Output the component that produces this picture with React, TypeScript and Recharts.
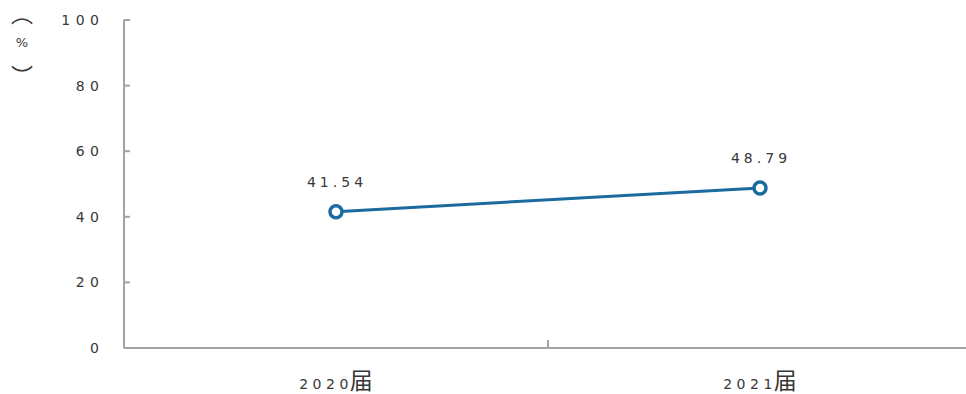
import { LineChart, Line, XAxis, YAxis, LabelList } from 'recharts'

// values
const categories = ['2020届', '2021届']
const rates = [41.54, 48.79]
const yTicks = [0, 20, 40, 60, 80, 100]

const data = categories.map((name, i) => ({ name, rate: rates[i] }))

const AXIS = '#a3a3a3'
const TEXT = '#383838'
const LINE = '#1c6b9f'
const NUM_FONT = '"DejaVu Sans", Verdana, sans-serif'
const CJK_FONT = '"Noto Sans CJK SC", sans-serif'

const Y_MARGIN = 25
const X_MARGIN = 28
const SPACING = 5.5

function YTick(props: any) {
  const { x, y, payload } = props
  const axisX = x + Y_MARGIN
  return (
    <g>
      <line x1={axisX} x2={axisX + 6} y1={y} y2={y} stroke={AXIS} strokeWidth={2} />
      <text x={x + SPACING} y={y} dy={5} textAnchor="end" fontSize={14} letterSpacing={SPACING} fill={TEXT} fontFamily={NUM_FONT}>
        {payload.value}
      </text>
    </g>
  )
}

function XTick(props: any) {
  const { x, y, payload, index } = props
  const axisY = y - X_MARGIN
  const half = payload.offset || 0
  const label = String(payload.value)
  const digits = label.replace('届', '')
  return (
    <g>
      {index === 0 && half > 0 && (
        <line x1={x + half} x2={x + half} y1={axisY} y2={axisY - 8} stroke={AXIS} strokeWidth={2} />
      )}
      <text x={x} y={y} dy={13} textAnchor="middle" fill={TEXT}>
        <tspan fontFamily={NUM_FONT} fontSize={14} letterSpacing={4.5}>{digits}</tspan>
        <tspan fontFamily={CJK_FONT} fontSize={23} dx={-3}>届</tspan>
      </text>
    </g>
  )
}

function ValueLabel(props: any) {
  const { x, y, value } = props
  return (
    <text x={x + 1} y={y} dy={-25} textAnchor="middle" fontSize={14} letterSpacing={4} fill={TEXT} fontFamily={NUM_FONT}>
      {Number(value).toFixed(2)}
    </text>
  )
}

function UnitLabel() {
  return (
    <g fill={TEXT} fontFamily={CJK_FONT} textAnchor="middle">
      <text x={22} y={22} fontSize={22}>︵</text>
      <text x={22} y={47} fontSize={13} fontFamily={NUM_FONT}>%</text>
      <text x={22} y={84} fontSize={22}>︶</text>
    </g>
  )
}

export default function App() {
  return (
    <div style={{ position: 'absolute', left: 0, top: 0, width: 966, height: 394, overflow: 'hidden', background: '#fff' }}>
      <LineChart width={972} height={394} data={data} margin={{ top: 20, right: 0, bottom: 16, left: 0 }}>
        <XAxis
          dataKey="name"
          scale="band"
          height={30}
          axisLine={{ stroke: AXIS, strokeWidth: 2 }}
          tickLine={false}
          tickSize={0}
          tickMargin={X_MARGIN}
          tick={<XTick />}
        />
        <YAxis
          width={124}
          domain={[0, 100]}
          ticks={yTicks}
          axisLine={{ stroke: AXIS, strokeWidth: 2 }}
          tickLine={false}
          tickSize={0}
          tickMargin={Y_MARGIN}
          tick={<YTick />}
          label={{ content: () => <UnitLabel /> }}
        />
        <Line
          type="linear"
          dataKey="rate"
          stroke={LINE}
          strokeWidth={3}
          dot={{ r: 6, fill: '#fff', stroke: LINE, strokeWidth: 3.5 }}
          isAnimationActive={false}
        >
          <LabelList dataKey="rate" content={<ValueLabel />} />
        </Line>
      </LineChart>
    </div>
  )
}
